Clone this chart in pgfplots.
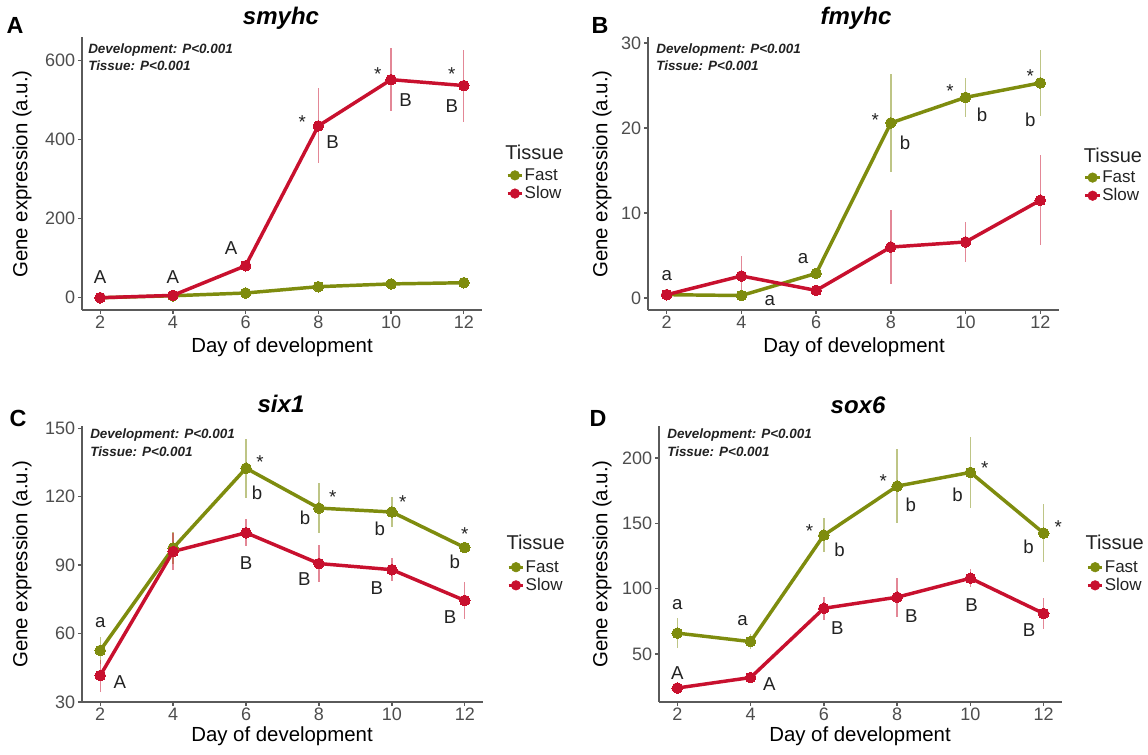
\documentclass[border=0pt]{standalone}
\usepackage{fontspec}
\setmainfont{Liberation Sans}
\usepackage{pgfplots}
\pgfplotsset{compat=1.18}
\definecolor{fastc}{HTML}{7E8C0E}
\definecolor{slowc}{HTML}{C8102E}
\definecolor{axc}{HTML}{5A5A5A}
\definecolor{tickc}{HTML}{4D4D4D}
\definecolor{txtc}{HTML}{222222}

\pgfplotsset{
  gg/.style={
    scale only axis, clip=false,
    axis lines=left,
    axis line style={-, draw=axc, line width=1pt},
    tick align=outside,
    major tick length=3pt,
    tick style={draw=axc, line width=1pt},
    xmin=1.5, xmax=12.5,
    xtick={2,4,6,8,10,12},
    ticklabel style={font=\fontsize{13.5}{16}\selectfont, text=tickc},
    xticklabel style={inner sep=1.5pt},
    yticklabel style={inner sep=2pt},
    /pgf/number format/assume math mode=true,
    legend style={draw=none, fill=none, font=\fontsize{12.75}{14}\selectfont, anchor=north west,
      inner sep=0pt, row sep=1.5pt, nodes={inner sep=0.8pt, text=txtc}},
    legend cell align=left,
  },
  errs/.style={only marks, mark=none, forget plot,
    error bars/y dir=both, error bars/y explicit, error bars/error mark=none,
    error bars/error bar style={line width=1pt, draw=#1, opacity=0.5}},
  ser/.style={forget plot, draw=#1, line width=2.6pt, mark=*, mark size=4pt,
    mark options={fill=#1, draw=#1, line width=0pt}},
  fastkey/.style={legend image code/.code={\draw[fastc,line width=2pt](0pt,0pt)--(11pt,0pt); \fill[fastc](5.5pt,0pt) circle (3.6pt);}},
  slowkey/.style={legend image code/.code={\draw[slowc,line width=2pt](0pt,0pt)--(11pt,0pt); \fill[slowc](5.5pt,0pt) circle (3.6pt);}},
}
\tikzset{
  lab/.style={font=\fontsize{14}{16}\selectfont, text=txtc, inner sep=0pt},
  st/.style={font=\fontsize{14}{16}\selectfont, text=txtc, inner sep=0pt, yshift=-3pt},
  stat/.style={font=\fontsize{10.1}{12}\selectfont\bfseries\itshape, text=txtc, anchor=west, inner sep=0pt},
  ttl/.style={font=\fontsize{18}{20}\selectfont\bfseries\itshape, text=black},
  plab/.style={font=\fontsize{17.5}{20}\selectfont\bfseries, text=black},
  ylab/.style={font=\fontsize{15.3}{18}\selectfont, text=black, rotate=90},
  xlab/.style={font=\fontsize{15.3}{18}\selectfont, text=black},
  legt/.style={font=\fontsize{15}{18}\selectfont, text=txtc, anchor=west, inner sep=0pt},
}

% ---------- data ----------
\pgfplotstableread{
x y e
2 0 2
4 5 3
6 12 5
8 28 6
10 35 9
12 38 6
}\Afast
\pgfplotstableread{
x y e
2 0 3
4 6 4
6 81 15
8 435 95
10 552 80
12 537 91
}\Aslow
\pgfplotstableread{
x y e
2 0.4 0.3
4 0.3 0.3
6 2.9 0.6
8 20.6 5.8
10 23.6 2.3
12 25.3 3.9
}\Bfast
\pgfplotstableread{
x y e
2 0.4 0.3
4 2.6 2.3
6 0.9 0.3
8 6.0 4.4
10 6.6 2.3
12 11.5 5.3
}\Bslow
\pgfplotstableread{
x y e
2 52.6 6
4 97.5 7
6 132.5 13
8 115 11
10 113.3 6.5
12 97.7 2
}\Cfast
\pgfplotstableread{
x y e
2 41.6 7
4 96 8
6 104.2 6
8 90.7 8
10 88 5
12 74.5 8
}\Cslow
\pgfplotstableread{
x y e
2 66 11.5
4 59.5 6
6 141 13
8 178.5 28.5
10 189 27
12 142.5 22
}\Dfast
\pgfplotstableread{
x y e
2 24 2
4 32 3
6 85 9
8 93.5 15
10 108 7
12 81 12
}\Dslow

\begin{document}
\begin{tikzpicture}
\useasboundingbox (0,0) rectangle (861pt,566.25pt);

% ================= A =================
\begin{axis}[gg, at={(61.5pt,333.75pt)}, anchor=south west,
  width=300pt, height=204.75pt, ymin=-31, ymax=660, ytick={0,200,400,600},
  legend style={at={(1.06,0.523)}}]
\addplot[errs=fastc] table[x=x,y=y,y error=e]{\Afast};
\addplot[errs=slowc] table[x=x,y=y,y error=e]{\Aslow};
\addplot[ser=fastc] table[x=x,y=y]{\Afast};
\addplot[ser=slowc] table[x=x,y=y]{\Aslow};
\addlegendimage{fastkey}\addlegendentry{Fast}
\addlegendimage{slowkey}\addlegendentry{Slow}
\node[lab] at (axis cs:2,53) {A};
\node[lab] at (axis cs:4,53) {A};
\node[lab] at (axis cs:5.6,126) {A};
\node[st] at (axis cs:7.56,455) {*};
\node[lab] at (axis cs:8.39,395) {B};
\node[st] at (axis cs:9.63,577) {*};
\node[lab] at (axis cs:10.4,500) {B};
\node[st] at (axis cs:11.67,577) {*};
\node[lab] at (axis cs:11.67,484) {B};
\node[legt] at (rel axis cs:1.058,0.579) {Tissue};
\end{axis}

% ================= B =================
\begin{axis}[gg, at={(486pt,333.75pt)}, anchor=south west,
  width=308.25pt, height=204.75pt, ymin=-1.4, ymax=30.7, ytick={0,10,20,30},
  legend style={at={(1.06,0.515)}}]
\addplot[errs=fastc] table[x=x,y=y,y error=e]{\Bfast};
\addplot[errs=slowc] table[x=x,y=y,y error=e]{\Bslow};
\addplot[ser=fastc] table[x=x,y=y]{\Bfast};
\addplot[ser=slowc] table[x=x,y=y]{\Bslow};
\addlegendimage{fastkey}\addlegendentry{Fast}
\addlegendimage{slowkey}\addlegendentry{Slow}
\node[lab] at (axis cs:2,2.6) {a};
\node[lab] at (axis cs:4.76,-0.3) {a};
\node[lab] at (axis cs:5.65,4.6) {a};
\node[st] at (axis cs:7.58,21.4) {*};
\node[lab] at (axis cs:8.38,18.3) {b};
\node[st] at (axis cs:9.58,24.8) {*};
\node[lab] at (axis cs:10.44,21.6) {b};
\node[st] at (axis cs:11.73,26.6) {*};
\node[lab] at (axis cs:11.73,21.0) {b};
\node[legt] at (rel axis cs:1.06,0.568) {Tissue};
\end{axis}

% ================= C =================
\begin{axis}[gg, at={(61.5pt,39.75pt)}, anchor=south west,
  width=300.75pt, height=207pt, ymin=30, ymax=151, ytick={30,60,90,120,150},
  legend style={at={(1.06,0.518)}}]
\addplot[errs=fastc] table[x=x,y=y,y error=e]{\Cfast};
\addplot[errs=slowc] table[x=x,y=y,y error=e]{\Cslow};
\addplot[ser=fastc] table[x=x,y=y]{\Cfast};
\addplot[ser=slowc] table[x=x,y=y]{\Cslow};
\addlegendimage{fastkey}\addlegendentry{Fast}
\addlegendimage{slowkey}\addlegendentry{Slow}
\node[lab] at (axis cs:2,65) {a};
\node[lab] at (axis cs:2.54,38.8) {A};
\node[st] at (axis cs:6.38,137) {*};
\node[lab] at (axis cs:6.3,121.6) {b};
\node[lab] at (axis cs:6,91) {B};
\node[st] at (axis cs:8.38,121.6) {*};
\node[lab] at (axis cs:7.62,110.7) {b};
\node[lab] at (axis cs:7.6,83.9) {B};
\node[lab] at (axis cs:9.67,105.8) {b};
\node[lab] at (axis cs:9.59,80) {B};
\node[st] at (axis cs:10.3,119.4) {*};
\node[st] at (axis cs:12,105.4) {*};
\node[lab] at (axis cs:11.73,91.4) {b};
\node[lab] at (axis cs:11.6,67.3) {B};
\node[legt] at (rel axis cs:1.058,0.578) {Tissue};
\end{axis}

% ================= D =================
\begin{axis}[gg, at={(494.25pt,39.75pt)}, anchor=south west,
  width=302.25pt, height=207pt, ymin=13.3, ymax=224.5, ytick={50,100,150,200},
  legend style={at={(1.06,0.518)}}]
\addplot[errs=fastc] table[x=x,y=y,y error=e]{\Dfast};
\addplot[errs=slowc] table[x=x,y=y,y error=e]{\Dslow};
\addplot[ser=fastc] table[x=x,y=y]{\Dfast};
\addplot[ser=slowc] table[x=x,y=y]{\Dslow};
\addlegendimage{fastkey}\addlegendentry{Fast}
\addlegendimage{slowkey}\addlegendentry{Slow}
\node[lab] at (axis cs:2,87.5) {a};
\node[lab] at (axis cs:3.78,75.3) {a};
\node[lab] at (axis cs:2,35.5) {A};
\node[lab] at (axis cs:4.51,27.1) {A};
\node[st] at (axis cs:5.61,147.2) {*};
\node[lab] at (axis cs:6.43,129.6) {b};
\node[lab] at (axis cs:6.37,70) {B};
\node[st] at (axis cs:7.62,185.5) {*};
\node[lab] at (axis cs:8.37,164) {b};
\node[lab] at (axis cs:8.39,79.1) {B};
\node[lab] at (axis cs:9.65,171.7) {b};
\node[st] at (axis cs:10.39,195.4) {*};
\node[lab] at (axis cs:10.03,87.5) {B};
\node[st] at (axis cs:12.4,150.3) {*};
\node[lab] at (axis cs:11.59,131.9) {b};
\node[lab] at (axis cs:11.6,68) {B};
\node[legt] at (rel axis cs:1.058,0.578) {Tissue};
\end{axis}

% ---------- titles, panel letters, axis titles, stats ----------
\node[plab] at ({15*0.75pt},{(755-25)*0.75pt}) {A};
\node[plab] at ({600*0.75pt},{(755-25)*0.75pt}) {B};
\node[plab] at ({18*0.75pt},{(755-418)*0.75pt}) {C};
\node[plab] at ({598*0.75pt},{(755-418)*0.75pt}) {D};

\node[ttl] at ({281*0.75pt},{(755-18)*0.75pt}) {smyhc};
\node[ttl] at ({856*0.75pt},{(755-18)*0.75pt}) {fmyhc};
\node[ttl] at ({281*0.75pt},{(755-404)*0.75pt}) {six1};
\node[ttl] at ({858*0.75pt},{(755-405)*0.75pt}) {sox6};

\node[ylab] at ({22*0.75pt},{(755-174)*0.75pt}) {Gene expression (a.u.)};
\node[ylab] at ({602*0.75pt},{(755-174)*0.75pt}) {Gene expression (a.u.)};
\node[ylab] at ({22*0.75pt},{(755-564)*0.75pt}) {Gene expression (a.u.)};
\node[ylab] at ({602*0.75pt},{(755-564)*0.75pt}) {Gene expression (a.u.)};

\node[xlab] at ({282*0.75pt},{(755-347)*0.75pt}) {Day of development};
\node[xlab] at ({854*0.75pt},{(755-347)*0.75pt}) {Day of development};
\node[xlab] at ({282*0.75pt},{(755-736)*0.75pt}) {Day of development};
\node[xlab] at ({860*0.75pt},{(755-736)*0.75pt}) {Day of development};

\node[stat] at ({88*0.75pt},{(755-50)*0.75pt}) {Development: P<0.001};
\node[stat] at ({88*0.75pt},{(755-66)*0.75pt}) {Tissue: P<0.001};
\node[stat] at ({656*0.75pt},{(755-50)*0.75pt}) {Development: P<0.001};
\node[stat] at ({656*0.75pt},{(755-66)*0.75pt}) {Tissue: P<0.001};
\node[stat] at ({90*0.75pt},{(755-435)*0.75pt}) {Development: P<0.001};
\node[stat] at ({90*0.75pt},{(755-452)*0.75pt}) {Tissue: P<0.001};
\node[stat] at ({667*0.75pt},{(755-435)*0.75pt}) {Development: P<0.001};
\node[stat] at ({667*0.75pt},{(755-452)*0.75pt}) {Tissue: P<0.001};
\end{tikzpicture}
\end{document}
